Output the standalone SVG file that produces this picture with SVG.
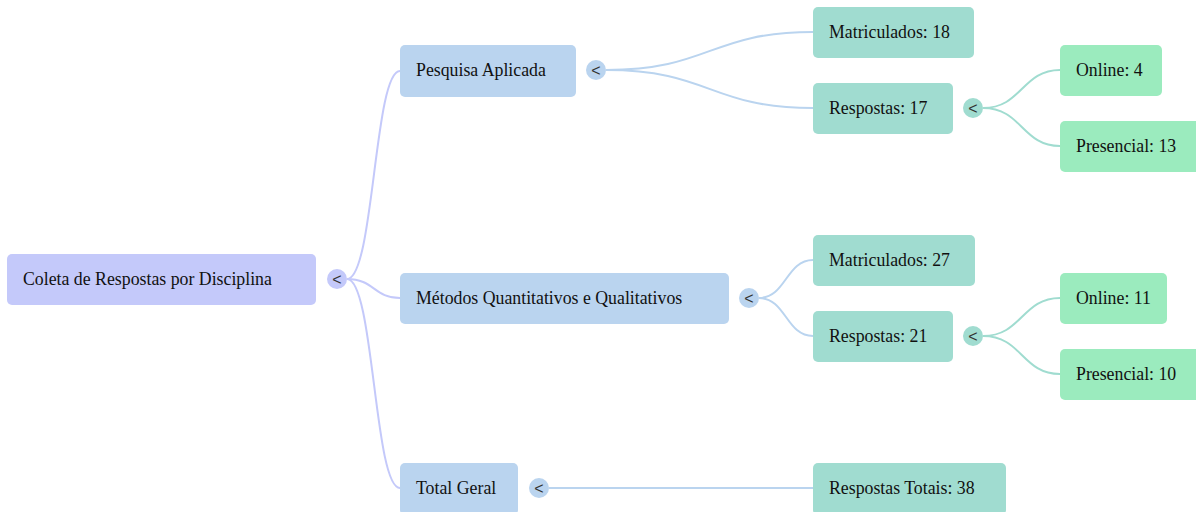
<svg xmlns="http://www.w3.org/2000/svg" width="1196" height="512" viewBox="0 0 1196 512">
<style>
.lbl{font-family:"Liberation Serif","Times New Roman",serif;font-size:17.8px;fill:#111}
.tog{font-family:"Liberation Sans",Arial,sans-serif;font-size:16px;fill:#333;text-anchor:middle}
.n0{fill:#c4c9fa}
.n1{fill:#bad4ef}
.n2{fill:#a0dcd0}
.n3{fill:#9bebbe}
.c0{fill:none;stroke:#c4c9fa;stroke-width:2}
.c1{fill:none;stroke:#bad4ef;stroke-width:2}
.c2{fill:none;stroke:#a0dcd0;stroke-width:2}
</style>
<rect width="1196" height="512" fill="#fff"/>
<g id="connectors">
<path class="c0" d="M347 279 C374 279 374 71 400 71"/>
<path class="c0" d="M347 279 C374 279 374 298 400 298"/>
<path class="c0" d="M347 279 C374 279 374 488 400 488"/>
<path class="c1" d="M606 70 C710 70 710 32 813 32"/>
<path class="c1" d="M606 70 C710 70 710 108 813 108"/>
<path class="c1" d="M759 298 C786 298 786 260 813 260"/>
<path class="c1" d="M759 298 C786 298 786 336 813 336"/>
<path class="c1" d="M549 488 L813 488"/>
<path class="c2" d="M983 108 C1022 108 1022 70 1060 70"/>
<path class="c2" d="M983 108 C1022 108 1022 146 1060 146"/>
<path class="c2" d="M983 336 C1022 336 1022 298 1060 298"/>
<path class="c2" d="M983 336 C1022 336 1022 374 1060 374"/>
</g>
<g id="root">
<rect class="n0" x="7" y="254" width="309" height="51" rx="5"/>
<text class="lbl" x="23" y="285">Coleta de Respostas por Disciplina</text>
<circle class="n0" cx="337" cy="279" r="10"/>
<text class="tog" x="337" y="285">&lt;</text>
</g>
<g id="pesquisa">
<rect class="n1" x="400" y="45" width="176" height="52" rx="5"/>
<text class="lbl" x="416" y="76">Pesquisa Aplicada</text>
<circle class="n1" cx="596" cy="70" r="10"/>
<text class="tog" x="596" y="76">&lt;</text>
</g>
<g id="metodos">
<rect class="n1" x="400" y="273" width="329" height="51" rx="5"/>
<text class="lbl" x="416" y="304">Métodos Quantitativos e Qualitativos</text>
<circle class="n1" cx="749" cy="298" r="10"/>
<text class="tog" x="749" y="304">&lt;</text>
</g>
<g id="total">
<rect class="n1" x="400" y="463" width="118" height="52" rx="5"/>
<text class="lbl" x="416" y="494">Total Geral</text>
<circle class="n1" cx="539" cy="488" r="10"/>
<text class="tog" x="539" y="494">&lt;</text>
</g>
<g id="matric18">
<rect class="n2" x="813" y="7" width="161" height="51" rx="5"/>
<text class="lbl" x="829" y="38">Matriculados: 18</text>
</g>
<g id="resp17">
<rect class="n2" x="813" y="83" width="140" height="51" rx="5"/>
<text class="lbl" x="829" y="114">Respostas: 17</text>
<circle class="n2" cx="973" cy="108" r="10"/>
<text class="tog" x="973" y="114">&lt;</text>
</g>
<g id="online4">
<rect class="n3" x="1060" y="45" width="102" height="51" rx="5"/>
<text class="lbl" x="1076" y="76">Online: 4</text>
</g>
<g id="presencial13">
<rect class="n3" x="1060" y="121" width="140" height="51" rx="5"/>
<text class="lbl" x="1076" y="152">Presencial: 13</text>
</g>
<g id="matric27">
<rect class="n2" x="813" y="235" width="162" height="51" rx="5"/>
<text class="lbl" x="829" y="266">Matriculados: 27</text>
</g>
<g id="resp21">
<rect class="n2" x="813" y="311" width="140" height="51" rx="5"/>
<text class="lbl" x="829" y="342">Respostas: 21</text>
<circle class="n2" cx="973" cy="336" r="10"/>
<text class="tog" x="973" y="342">&lt;</text>
</g>
<g id="online11">
<rect class="n3" x="1060" y="273" width="107" height="51" rx="5"/>
<text class="lbl" x="1076" y="304">Online: 11</text>
</g>
<g id="presencial10">
<rect class="n3" x="1060" y="349" width="140" height="51" rx="5"/>
<text class="lbl" x="1076" y="380">Presencial: 10</text>
</g>
<g id="respTotais">
<rect class="n2" x="813" y="463" width="193" height="52" rx="5"/>
<text class="lbl" x="829" y="494">Respostas Totais: 38</text>
</g>
</svg>
